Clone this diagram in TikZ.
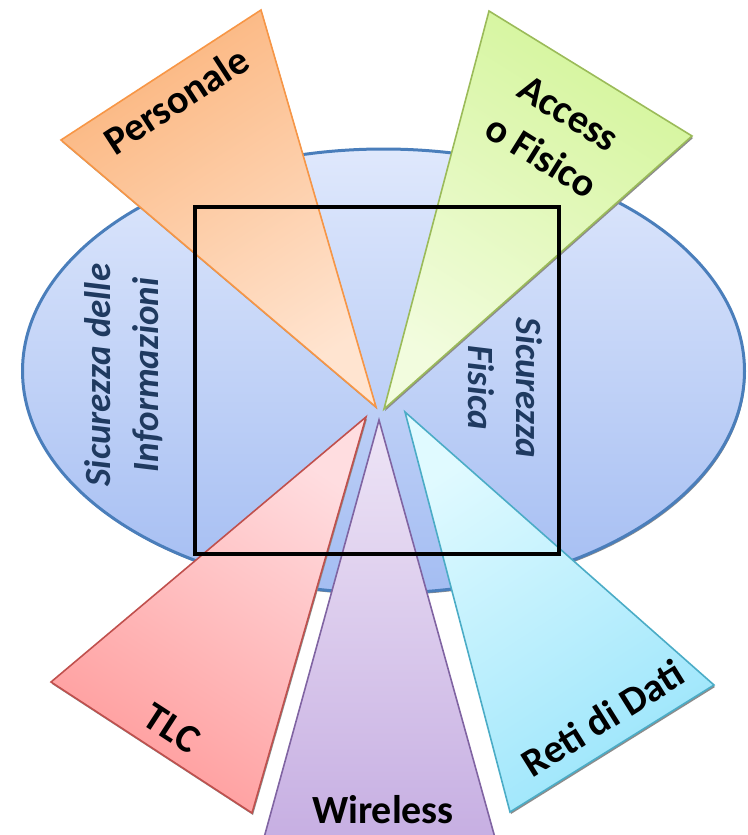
\documentclass[tikz,border=0pt]{standalone}
\usepackage{fontspec}
\setmainfont{Carlito}
\definecolor{ellTop}{HTML}{DFE8FC}
\definecolor{ellBot}{HTML}{A4BDF2}
\definecolor{ellBorder}{HTML}{4A7EBB}
\definecolor{txtBlue}{HTML}{1F3A60}
\definecolor{orOut}{HTML}{FBB67F}\definecolor{orIn}{HTML}{FFE4D0}\definecolor{orLine}{HTML}{F79646}
\definecolor{grOut}{HTML}{D4F59B}\definecolor{grIn}{HTML}{F2FCDE}\definecolor{grLine}{HTML}{9BBB59}
\definecolor{reOut}{HTML}{FF9C9C}\definecolor{reIn}{HTML}{FFDDE0}\definecolor{reLine}{HTML}{C0504D}
\definecolor{puOut}{HTML}{C6AEE2}\definecolor{puIn}{HTML}{EEE5F6}\definecolor{puLine}{HTML}{8064A2}
\definecolor{cyOut}{HTML}{9BE5FB}\definecolor{cyIn}{HTML}{E0FAFF}\definecolor{cyLine}{HTML}{4BACC6}
\begin{document}
\begin{tikzpicture}[x=1pt,y=-1pt,
  tri/.style={line width=1.6pt, line join=miter},
  shad/.style={fill=black!45},
  trilabel/.style={font=\fontsize{40}{51}\selectfont\bfseries, text=black, align=center, inner sep=0pt},
  elllabel/.style={font=\fontsize{37}{48}\selectfont\bfseries\itshape, text=txtBlue, align=center, inner sep=0pt}]
\useasboundingbox (0,0) rectangle (747,835);
\clip (0,0) rectangle (747,835);
% ellipse
\fill[black!45] (384.5,373) ellipse [x radius=361, y radius=222];
\shade[top color=ellTop, bottom color=ellBot, draw=ellBorder, line width=3pt] (383.5,371) ellipse [x radius=361, y radius=222];
\node[elllabel, rotate=90] (info) at (124,375) {Sicurezza delle\\Informazioni};
\node[elllabel, rotate=-90] (fis) at (505,388) {Sicurezza\\Fisica};
% orange
\fill[shad] (377,409) -- (62,142) -- (262,12) -- cycle;
\shade[tri, draw=orLine, top color=orOut, bottom color=orIn, shading angle=33] (376,407) -- (61,140) -- (261,10) -- cycle;
% green
\fill[shad] (385,411) -- (490,13) -- (693,138) -- cycle;
\shade[tri, draw=grLine, top color=grOut, bottom color=grIn, shading angle=-32] (384,409) -- (489,11) -- (692,136) -- cycle;
% red
\fill[shad] (367,419) -- (52,684) -- (253,815) -- cycle;
\shade[tri, draw=reLine, top color=reOut, bottom color=reIn, shading angle=147] (366,417) -- (51,682) -- (252,813) -- cycle;
% purple
\shade[tri, draw=puLine, top color=puOut, bottom color=puIn, shading angle=180] (379,420) -- (262,845) -- (497,845) -- cycle;
% cyan
\fill[shad] (406,414) -- (511,814) -- (715,687) -- cycle;
\shade[tri, draw=cyLine, top color=cyOut, bottom color=cyIn, shading angle=213] (405,412) -- (510,812) -- (714,685) -- cycle;
% square
\node[draw=black, line width=4.5pt, minimum width=364pt, minimum height=347pt, inner sep=0pt] (sq) at (377,380.5) {};
% labels
\node[trilabel, rotate=33] (pers) at (176,100) {Personale};
\node[trilabel, rotate=-32] (acc) at (555,135) {Access\\o Fisico};
\node[trilabel, rotate=-33] (tlc) at (172,728) {TLC};
\node[trilabel, rotate=32] (reti) at (603,718) {Reti di Dati};
\node[trilabel, anchor=base] (wire) at (383,823) {Wireless};
\end{tikzpicture}
\end{document}
